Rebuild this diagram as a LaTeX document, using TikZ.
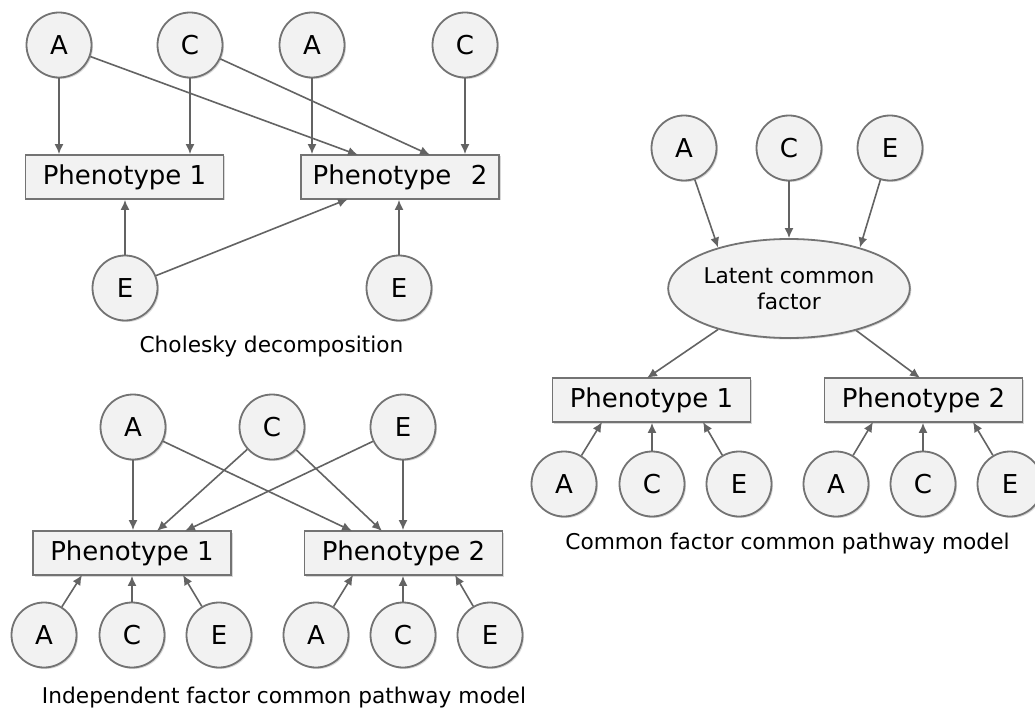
\documentclass[tikz,border=0pt]{standalone}
\usepackage{fontspec}
\setmainfont{DejaVu Sans}
\usetikzlibrary{arrows.meta,shapes.geometric,shadows}
\definecolor{linegray}{HTML}{636363}
\definecolor{bordergray}{HTML}{737373}
\definecolor{fillgray}{HTML}{F2F2F2}
\tikzset{
  shad/.style={drop shadow={shadow xshift=1.5pt,shadow yshift=-1.5pt,opacity=0.3,fill=gray}},
  var/.style={circle,draw=bordergray,line width=1.8pt,fill=fillgray,minimum size=65pt,inner sep=0pt,shad,font=\fontsize{26}{30}\selectfont},
  pheno/.style={rectangle,draw=bordergray,line width=1.8pt,fill=fillgray,minimum width=198pt,minimum height=44pt,inner sep=0pt,shad,font=\fontsize{26}{30}\selectfont},
  latent/.style={ellipse,draw=bordergray,line width=1.8pt,fill=fillgray,minimum width=209pt,minimum height=99pt,inner sep=0pt,shad,align=center,font=\fontsize{21.7}{25.5}\selectfont},
  capt/.style={font=\fontsize{21.7}{26}\selectfont,inner sep=0pt},
  arr/.style={draw=linegray,line width=1.6pt,-{Latex[length=10pt,width=9pt]},shorten >=0pt}
}
\begin{document}
\begin{tikzpicture}[x=1pt,y=-1pt]
\useasboundingbox (0,0) rectangle (1035,711);
\fill[white] (0,0) rectangle (1035,711);
% ---------- Panel 1: Cholesky ----------
\node[var] (a1) at (59,45) {A};
\node[var] (c1) at (190,45) {C};
\node[var] (a2) at (312,45) {A};
\node[var] (c2) at (465,45) {C};
\node[pheno] (p1) at (124.5,177) {Phenotype 1};
\node[pheno] (p2) at (400,177) {Phenotype\hspace{0.75em}2};
\node[var] (e1) at (125,288) {E};
\node[var] (e2) at (399,288) {E};
\node[capt] (cap1) at (271.5,347) {Cholesky decomposition};
\coordinate (t1) at (358,155);
\coordinate (t2) at (430,155);
\coordinate (t3) at (348,199);
\draw[arr] (a1) -- (a1 |- p1.north);
\draw[arr] (c1) -- (c1 |- p1.north);
\draw[arr] (a1) -- (t1);
\draw[arr] (c1) -- (t2);
\draw[arr] (a2) -- (a2 |- p2.north);
\draw[arr] (c2) -- (c2 |- p2.north);
\draw[arr] (e1) -- (e1 |- p1.south);
\draw[arr] (e1) -- (t3);
\draw[arr] (e2) -- (e2 |- p2.south);
% ---------- Panel 2: Independent factor ----------
\node[var] (ia) at (133,427) {A};
\node[var] (ic) at (272,427) {C};
\node[var] (ie) at (403,427) {E};
\node[pheno] (ip1) at (132,553) {Phenotype 1};
\node[pheno] (ip2) at (403.5,553) {Phenotype 2};
\node[var] (iba1) at (44,635) {A};
\node[var] (ibc1) at (132,635) {C};
\node[var] (ibe1) at (219,635) {E};
\node[var] (iba2) at (316,635) {A};
\node[var] (ibc2) at (403,635) {C};
\node[var] (ibe2) at (490,635) {E};
\node[capt] (cap2) at (284,698) {Independent factor common pathway model};
\coordinate (u1) at (352,531);
\coordinate (u2) at (157,531);
\coordinate (u3) at (382,531);
\coordinate (u4) at (185,531);
\coordinate (v1) at (82,575);
\coordinate (v2) at (183,575);
\coordinate (v3) at (353,575);
\coordinate (v4) at (455,575);
\draw[arr] (ia) -- (ia |- ip1.north);
\draw[arr] (ia) -- (u1);
\draw[arr] (ic) -- (u2);
\draw[arr] (ic) -- (u3);
\draw[arr] (ie) -- (u4);
\draw[arr] (ie) -- (ie |- ip2.north);
\draw[arr] (iba1) -- (v1);
\draw[arr] (ibc1) -- (ibc1 |- ip1.south);
\draw[arr] (ibe1) -- (v2);
\draw[arr] (iba2) -- (v3);
\draw[arr] (ibc2) -- (ibc2 |- ip2.south);
\draw[arr] (ibe2) -- (v4);
% ---------- Panel 3: Common factor ----------
\node[var] (ra) at (684,148) {A};
\node[var] (rc) at (789,148) {C};
\node[var] (re) at (890,148) {E};
\node[latent] (lat) at (789,288.5) {Latent common\\factor};
\node[pheno] (rp1) at (651.5,400) {Phenotype 1};
\node[pheno] (rp2) at (923.5,400) {Phenotype 2};
\node[var] (rba1) at (564,484) {A};
\node[var] (rbc1) at (652,484) {C};
\node[var] (rbe1) at (739,484) {E};
\node[var] (rba2) at (836,484) {A};
\node[var] (rbc2) at (923,484) {C};
\node[var] (rbe2) at (1010,484) {E};
\node[capt] (cap3) at (787.5,544) {Common factor common pathway model};
\coordinate (w1) at (647,378);
\coordinate (w2) at (920,378);
\coordinate (x1) at (602,422);
\coordinate (x2) at (703,422);
\coordinate (x3) at (873,422);
\coordinate (x4) at (973,422);
\draw[arr] (ra) -- (lat.150);
\draw[arr] (rc) -- (lat.north);
\draw[arr] (re) -- (lat.30);
\draw[arr] (lat.210) -- (w1);
\draw[arr] (lat.-32) -- (w2);
\draw[arr] (rba1) -- (x1);
\draw[arr] (rbc1) -- (rbc1 |- rp1.south);
\draw[arr] (rbe1) -- (x2);
\draw[arr] (rba2) -- (x3);
\draw[arr] (rbc2) -- (rbc2 |- rp2.south);
\draw[arr] (rbe2) -- (x4);
\end{tikzpicture}
\end{document}
